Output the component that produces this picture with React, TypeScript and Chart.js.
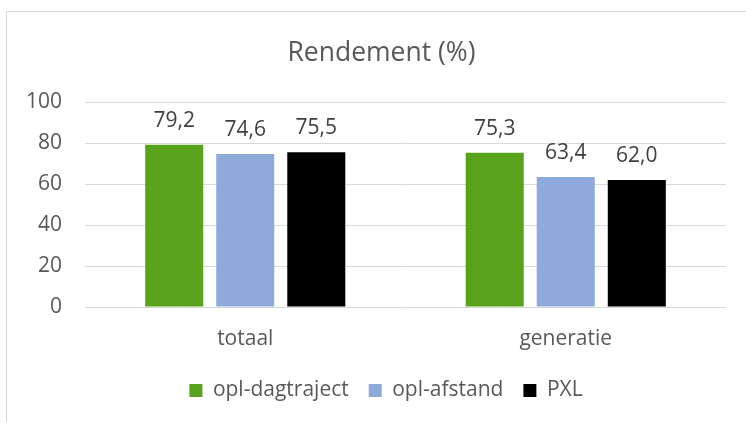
import React, { useEffect, useRef } from "react";
import { Chart, registerables } from "chart.js";

Chart.register(...registerables);

const categories = ["totaal", "generatie"];
const seriesNames = ["opl-dagtraject", "opl-afstand", "PXL"];
const dagtraject = [79.2, 75.3];
const afstand = [74.6, 63.4];
const pxl = [75.5, 62.0];
const yTicks = [0, 20, 40, 60, 80, 100];

const FONT = "'Open Sans', 'Noto Sans', sans-serif";

const valueLabels = {
  id: "valueLabels",
  afterDatasetsDraw(chart: any) {
    const ctx = chart.ctx;
    ctx.save();
    ctx.font = `21px ${FONT}`;
    ctx.fillStyle = "#404040";
    ctx.textAlign = "center";
    ctx.textBaseline = "alphabetic";
    chart.data.datasets.forEach((ds: any, i: number) => {
      const meta = chart.getDatasetMeta(i);
      meta.data.forEach((el: any, j: number) => {
        const v = ds.data[j] as number;
        ctx.fillText(v.toFixed(1).replace(".", ","), el.x, el.y - 18);
      });
    });
    ctx.restore();
  },
};

// Excel centres the title and legend slightly differently from the plot area
const shiftBoxes = {
  id: "shiftBoxes",
  afterLayout(chart: any) {
    if (chart.legend) chart.legend.left = 46;
    if (chart.titleBlock) chart.titleBlock.left = 37;
  },
};

export default function App() {
  const ref = useRef<HTMLCanvasElement | null>(null);
  useEffect(() => {
    if (!ref.current) return;
    Chart.defaults.font.family = FONT;
    const chart = new Chart(ref.current, {
      type: "bar",
      data: {
        labels: categories,
        datasets: [
          { label: seriesNames[0], data: dagtraject, backgroundColor: "#58A31B" },
          { label: seriesNames[1], data: afstand, backgroundColor: "#8EAADB" },
          { label: seriesNames[2], data: pxl, backgroundColor: "#000000" },
        ],
      },
      options: {
        responsive: false,
        animation: false,
        devicePixelRatio: 1,
        layout: { padding: { left: 20, right: 20, top: 0, bottom: 11 } },
        datasets: {
          bar: { categoryPercentage: 0.665, barPercentage: 0.817 },
        },
        scales: {
          x: {
            grid: { display: false, drawTicks: false },
            border: { display: false },
            ticks: { color: "#595959", font: { size: 21, family: FONT }, padding: 19 },
            afterFit: (s: any) => {
              s.height = 53;
            },
          },
          y: {
            min: 0,
            max: 100,
            afterBuildTicks: (s: any) => {
              s.ticks = yTicks.map((v) => ({ value: v }));
            },
            grid: { color: "#d9d9d9", lineWidth: 1, drawTicks: false },
            border: { display: false },
            ticks: { color: "#595959", font: { size: 21, family: FONT }, padding: 23 },
            afterFit: (s: any) => {
              s.width = 65;
            },
          },
        },
        plugins: {
          title: {
            display: true,
            text: "Rendement (%)",
            color: "#595959",
            font: { size: 26.5, weight: "normal", family: FONT },
            padding: { top: 38, bottom: 32.2 },
          },
          legend: {
            position: "bottom",
            labels: {
              color: "#595959",
              font: { size: 21, family: FONT },
              boxWidth: 13,
              boxHeight: 13,
              padding: 20,
            },
          },
          tooltip: { enabled: false },
        },
      },
      plugins: [valueLabels, shiftBoxes],
    });
    return () => chart.destroy();
  }, []);

  return (
    <div
      style={{
        position: "fixed",
        left: 0,
        top: 0,
        width: 746,
        height: 422,
        overflow: "hidden",
        background: "#ffffff",
      }}
    >
      <div
        style={{
          position: "absolute",
          left: 6,
          top: 11,
          width: 780,
          height: 440,
          border: "1px solid #d9d9d9",
          boxSizing: "border-box",
        }}
      />
      <canvas
        ref={ref}
        width={746}
        height={422}
        style={{ position: "absolute", left: 0, top: 0, width: 746, height: 422 }}
      />
    </div>
  );
}
